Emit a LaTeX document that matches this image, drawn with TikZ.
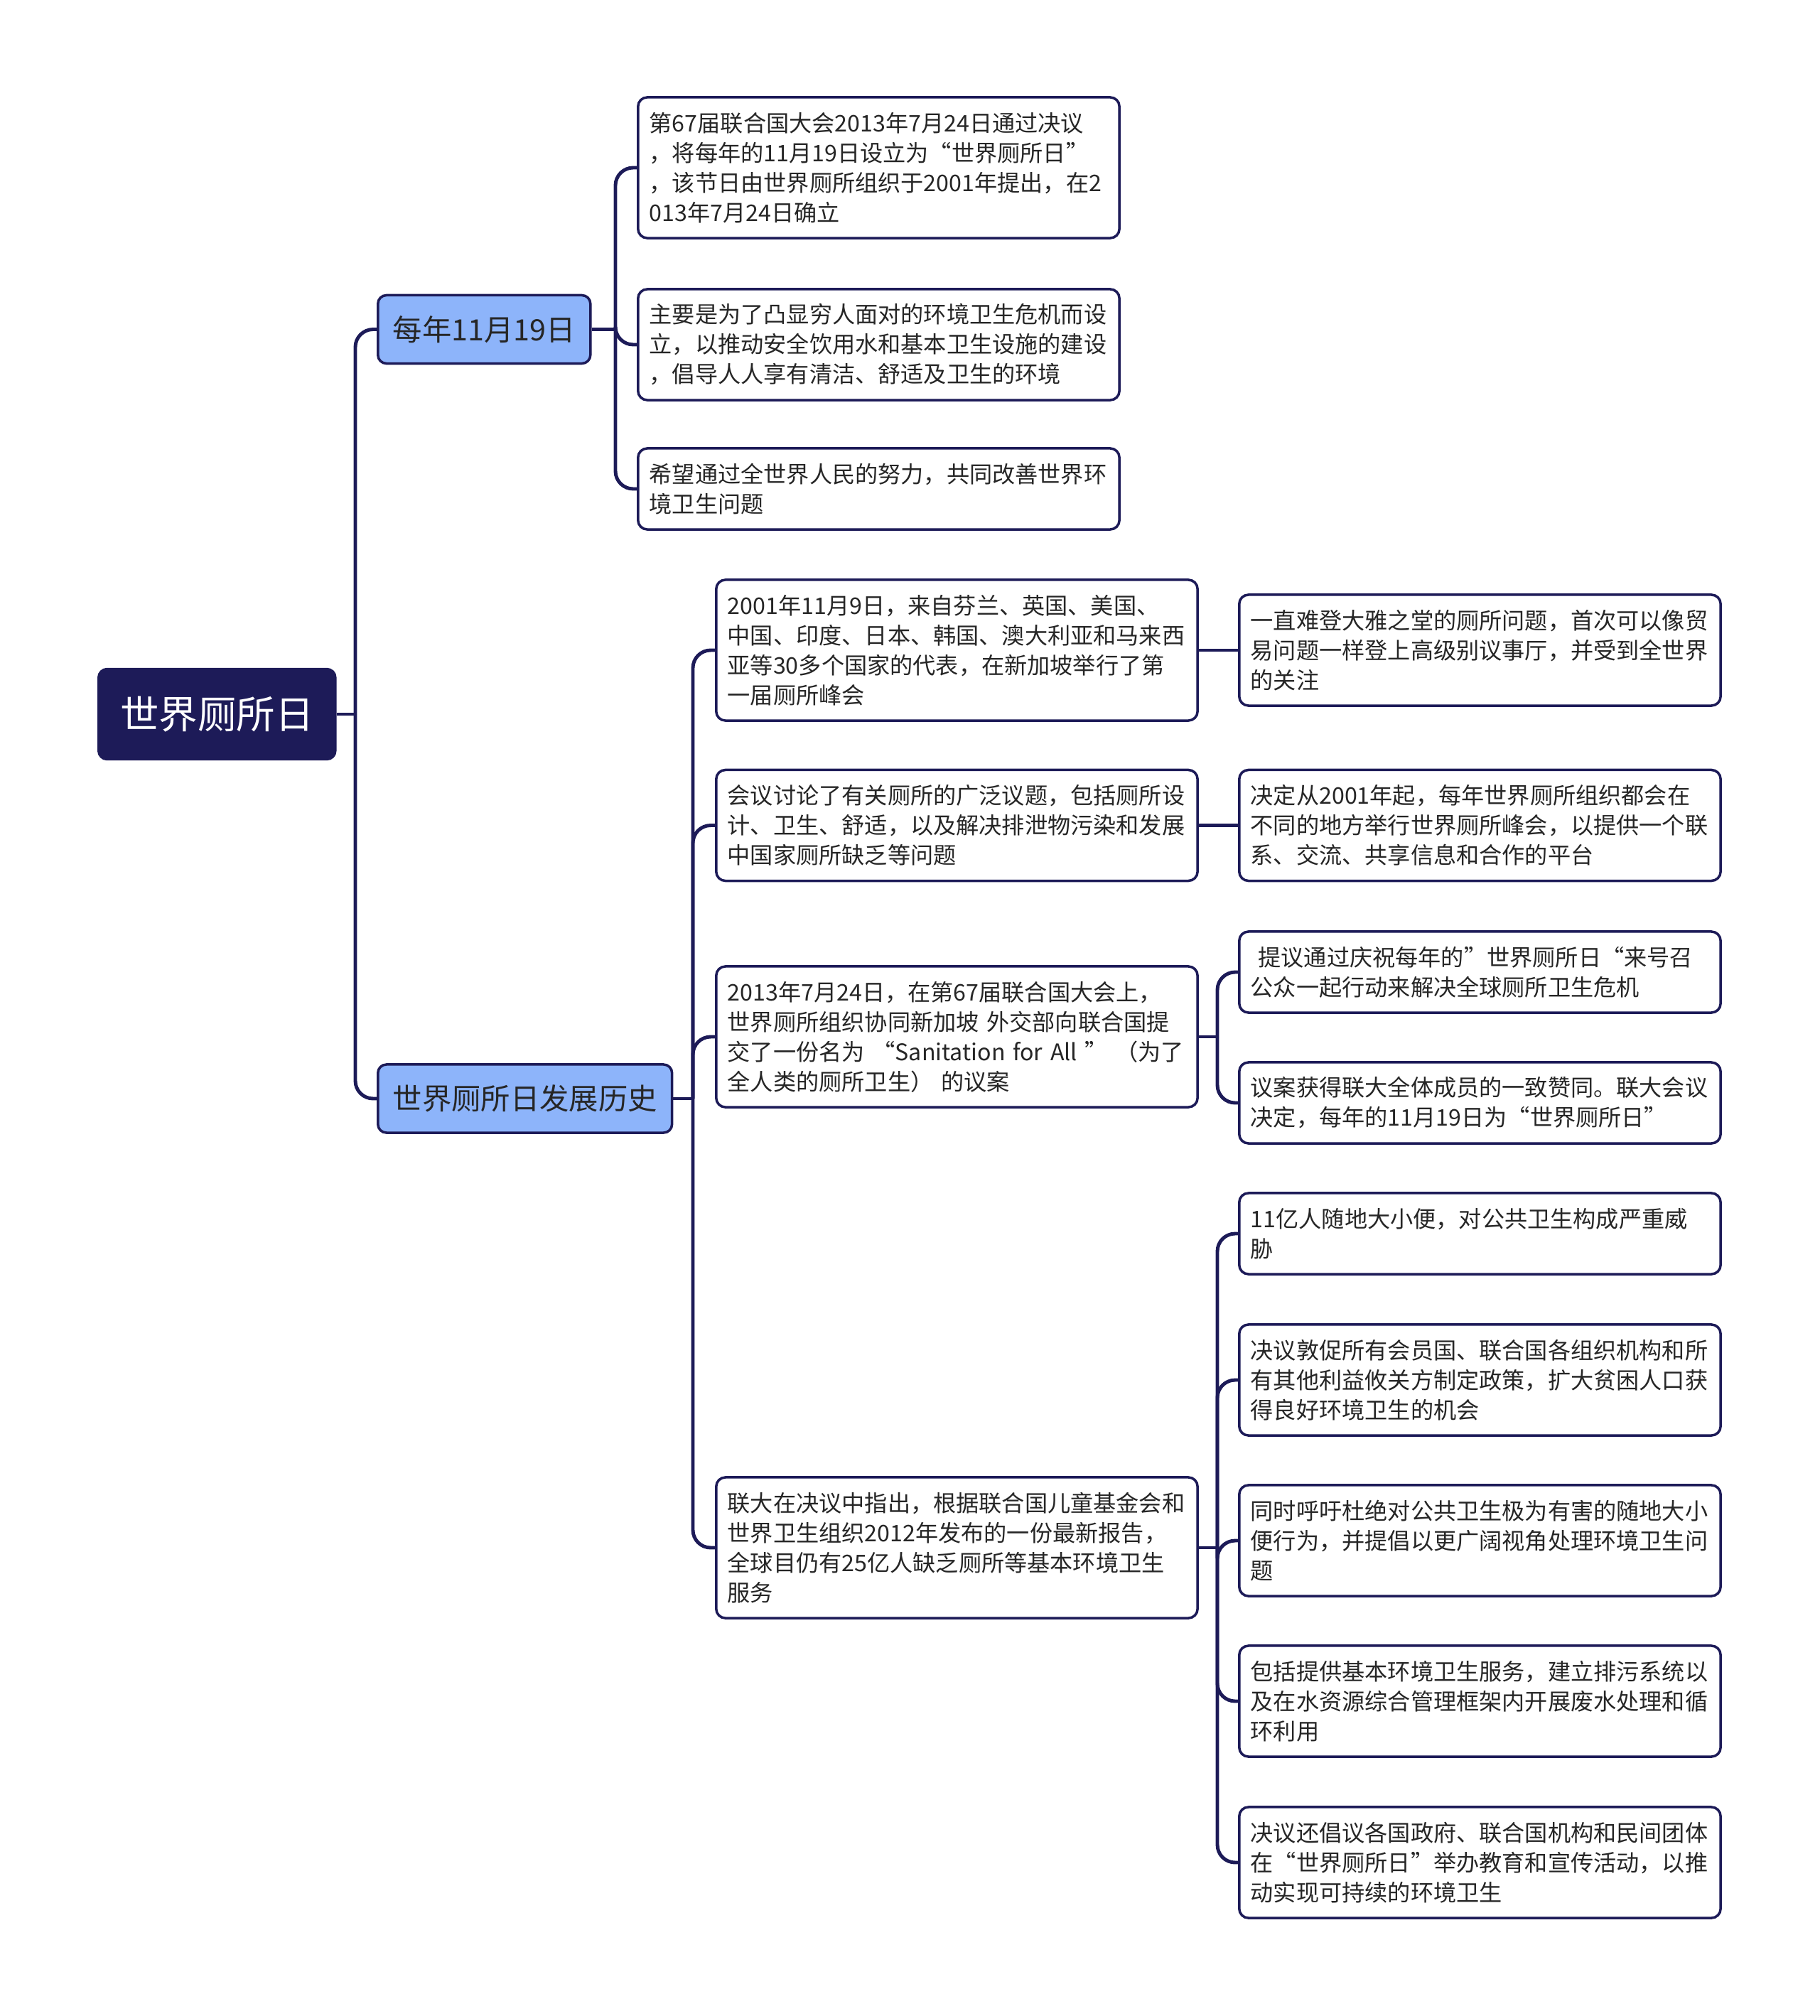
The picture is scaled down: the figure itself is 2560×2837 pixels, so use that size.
\documentclass[tikz,border=0pt]{standalone}
\usepackage{fontspec}
\setmainfont{Noto Sans CJK SC}
\definecolor{wtnavy}{RGB}{29,27,88}
\definecolor{wtblue}{RGB}{141,180,250}
\definecolor{wttext}{RGB}{38,38,38}
\newcommand{\leaffont}{\fontsize{9.15pt}{11.95pt}\selectfont}
\tikzset{
    wt root/.style={fill=wtnavy, draw=wtnavy, rounded corners=0.13cm,
                    text=white, minimum width=3.35cm, minimum height=1.29cm,
                    font=\fontsize{15.5pt}{18pt}\selectfont, anchor=west},
    wt topic/.style={fill=wtblue, draw=wtnavy, line width=1pt,
                     rounded corners=0.12cm, text=wttext, inner xsep=0.21cm,
                     minimum height=0.96cm, anchor=west,
                     font=\fontsize{11.75pt}{14pt}\selectfont},
    wt leaf/.style={draw=wtnavy, line width=1pt, fill=white,
                    rounded corners=0.13cm, text=wttext, align=left,
                    text width=6.45cm, inner xsep=0.16cm, inner ysep=0.1cm,
                    font=\leaffont, anchor=west},
    wt two/.style={wt leaf, minimum height=1.14cm},
    wt three/.style={wt leaf, minimum height=1.56cm},
    wt four/.style={wt leaf, minimum height=1.98cm},
    wt link/.style={draw=wtnavy, line width=1.4pt, rounded corners=0.25cm},
}

\begin{document}
\begin{tikzpicture}[x=0.01cm, y=-0.01cm]
    \useasboundingbox (0,0) rectangle (2560,2837);
    % Root and main topics
    \node[wt root] (root) at (137, 1005) {世界厕所日};
    \node[wt topic] (t1) at (530, 463.5) {每年11月19日};
    \node[wt topic] (t2) at (530, 1546) {世界厕所日发展历史};
    % Topic 1 leaves
    \node[wt four] (a1) at (896, 236) {第67届联合国大会2013年7月24日通过决议\\，将每年的11月19日设立为“世界厕所日”\\，该节日由世界厕所组织于2001年提出，在2\\013年7月24日确立};
    \node[wt three] (a2) at (896, 485) {主要是为了凸显穷人面对的环境卫生危机而设\\立，以推动安全饮用水和基本卫生设施的建设\\，倡导人人享有清洁、舒适及卫生的环境};
    \node[wt two] (a3) at (896, 688) {希望通过全世界人民的努力，共同改善世界环\\境卫生问题};
    % Topic 2 leaves
    \node[wt four] (b1) at (1006, 915) {2001年11月9日，来自芬兰、英国、美国、\\中国、印度、日本、韩国、澳大利亚和马来西\\亚等30多个国家的代表，在新加坡举行了第\\一届厕所峰会};
    \node[wt three] (b2) at (1006, 1161.5) {会议讨论了有关厕所的广泛议题，包括厕所设\\计、卫生、舒适，以及解决排泄物污染和发展\\中国家厕所缺乏等问题};
    \node[wt four] (b3) at (1006, 1459) {2013年7月24日，在第67届联合国大会上，\\世界厕所组织协同新加坡 外交部向联合国提\\交了一份名为 “Sanitation for All ” （为了\\全人类的厕所卫生） 的议案};
    \node[wt four] (b4) at (1006, 2178) {联大在决议中指出，根据联合国儿童基金会和\\世界卫生组织2012年发布的一份最新报告，\\全球目仍有25亿人缺乏厕所等基本环境卫生\\服务};
    % Third level
    \node[wt three] (c1) at (1742, 915) {一直难登大雅之堂的厕所问题，首次可以像贸\\易问题一样登上高级别议事厅，并受到全世界\\的关注};
    \node[wt three] (c2) at (1742, 1161.5) {决定从2001年起，每年世界厕所组织都会在\\不同的地方举行世界厕所峰会，以提供一个联\\系、交流、共享信息和合作的平台};
    \node[wt two] (c3) at (1742, 1368) {\ 提议通过庆祝每年的”世界厕所日“来号召\\公众一起行动来解决全球厕所卫生危机};
    \node[wt two] (c4) at (1742, 1552) {议案获得联大全体成员的一致赞同。联大会议\\决定，每年的11月19日为“世界厕所日”};
    \node[wt two] (d1) at (1742, 1736) {11亿人随地大小便，对公共卫生构成严重威\\胁};
    \node[wt three] (d2) at (1742, 1942) {决议敦促所有会员国、联合国各组织机构和所\\有其他利益攸关方制定政策，扩大贫困人口获\\得良好环境卫生的机会};
    \node[wt three] (d3) at (1742, 2168) {同时呼吁杜绝对公共卫生极为有害的随地大小\\便行为，并提倡以更广阔视角处理环境卫生问\\题};
    \node[wt three] (d4) at (1742, 2394) {包括提供基本环境卫生服务，建立排污系统以\\及在水资源综合管理框架内开展废水处理和循\\环利用};
    \node[wt three] (d5) at (1742, 2621) {决议还倡议各国政府、联合国机构和民间团体\\在“世界厕所日”举办教育和宣传活动，以推\\动实现可持续的环境卫生};
    % Branch points
    \coordinate (k0) at (500, 1005);
    \coordinate (k1) at (866, 463.5);
    \coordinate (k2) at (975, 1546);
    \coordinate (k3) at (1713, 1459);
    \coordinate (k4) at (1713, 2178);
    % Connectors
    \draw[wt link] (root.east) -- (k0);
    \foreach \n in {t1, t2} \draw[wt link] (k0) |- (\n.west);
    \draw[wt link] (t1.east) -- (k1);
    \foreach \n in {a1, a2, a3} \draw[wt link] (k1) |- (\n.west);
    \draw[wt link] (t2.east) -- (k2);
    \foreach \n in {b1, b2, b3, b4} \draw[wt link] (k2) |- (\n.west);
    \draw[wt link] (b1.east) -- (c1.west);
    \draw[wt link] (b2.east) -- (c2.west);
    \draw[wt link] (b3.east) -- (k3);
    \foreach \n in {c3, c4} \draw[wt link] (k3) |- (\n.west);
    \draw[wt link] (b4.east) -- (k4);
    \foreach \n in {d1, d2, d3, d4, d5} \draw[wt link] (k4) |- (\n.west);
\end{tikzpicture}
\end{document}
